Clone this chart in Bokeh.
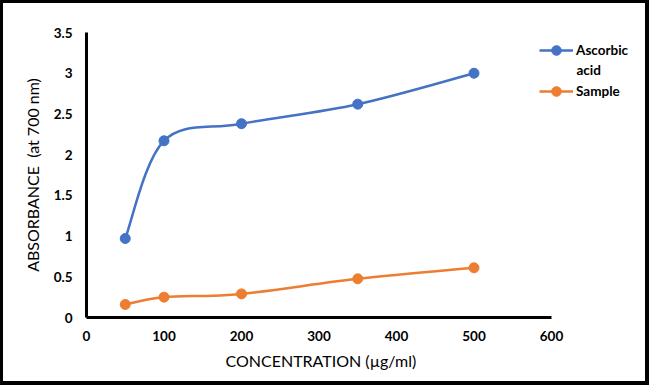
from bokeh.plotting import figure
from bokeh.models import Range1d, FixedTicker, Legend, LegendItem, Label, Title
from bokeh.embed import file_html
from bokeh.resources import INLINE

concentration = [50, 100, 200, 350, 500]
ascorbic_acid = [0.97, 2.17, 2.38, 2.62, 3.00]
sample = [0.16, 0.25, 0.29, 0.475, 0.61]
x_ticks = [0, 100, 200, 300, 400, 500, 600]
y_ticks = [0, 0.5, 1, 1.5, 2, 2.5, 3, 3.5]
y_tick_labels = ["0", "0.5", "1", "1.5", "2", "2.5", "3", "3.5"]

BLUE = "#4472C4"
ORANGE = "#ED7D31"
FONT = "Lato"

# frame spans 554 px; the x axis (0..600) occupies 465 px of it, the rest holds the legend
X_AXIS_MAX = 600
FRAME_PX = 554
AXIS_PX = 465
x_end = X_AXIS_MAX * FRAME_PX / AXIS_PX

p = figure(width=649, height=385, output_backend="svg", toolbar_location=None,
           x_range=Range1d(0, x_end), y_range=Range1d(0, 3.5),
           min_border_left=83, min_border_right=12, min_border_top=29, min_border_bottom=71)
p.outline_line_color = None
p.grid.visible = False
p.styles = {"border-style": "solid", "border-color": "black",
            "border-width": "3px 4px 4px 3px"}

for ax in (p.xaxis[0], p.yaxis[0]):
    ax.axis_line_width = 3
    ax.axis_line_color = "black"
    ax.major_tick_line_color = None
    ax.minor_tick_line_color = None
    ax.major_label_text_font = FONT
    ax.major_label_text_font_style = "bold"
    ax.major_label_text_font_size = "13.5px"
    ax.major_label_text_color = "black"
    ax.axis_label_text_font = FONT
    ax.axis_label_text_font_style = "normal"
    ax.axis_label_text_font_size = "16px"
    ax.axis_label_text_color = "black"

p.xaxis.bounds = (0, X_AXIS_MAX)
p.xaxis.ticker = FixedTicker(ticks=x_ticks)
p.yaxis.ticker = FixedTicker(ticks=y_ticks)
p.yaxis.major_label_overrides = {t: l for t, l in zip(y_ticks, y_tick_labels)}
p.xaxis.major_label_standoff = 7
p.yaxis.major_label_standoff = 8
p.yaxis.axis_label = "ABSORBANCE\u00a0\u00a0(at 700 nm)"
p.yaxis.axis_label_standoff = 9

# x-axis title centred under the 0..600 axis (not under the wider frame)
x_title = Title(text="CONCENTRATION (\u00b5g/ml)", align="left", offset=139, standoff=10,
                text_font=FONT, text_font_size="16px", text_font_style="normal",
                text_color="black")
p.add_layout(x_title, "below")


def smooth_segments(xs, ys):
    # Excel-style smoothed line: cubic Bezier control points from neighbours
    n = len(xs)
    seg = {k: [] for k in ("x0", "y0", "x1", "y1", "cx0", "cy0", "cx1", "cy1")}
    for i in range(n - 1):
        xp, yp = (xs[i - 1], ys[i - 1]) if i > 0 else (xs[i], ys[i])
        xn, yn = (xs[i + 2], ys[i + 2]) if i + 2 < n else (xs[i + 1], ys[i + 1])
        seg["x0"].append(xs[i]); seg["y0"].append(ys[i])
        seg["x1"].append(xs[i + 1]); seg["y1"].append(ys[i + 1])
        seg["cx0"].append(xs[i] + (xs[i + 1] - xp) / 6)
        seg["cy0"].append(ys[i] + (ys[i + 1] - yp) / 6)
        seg["cx1"].append(xs[i + 1] - (xn - xs[i]) / 6)
        seg["cy1"].append(ys[i + 1] - (yn - ys[i]) / 6)
    return seg


items = []
for name, ys, col in (("Ascorbic", ascorbic_acid, BLUE), ("Sample", sample, ORANGE)):
    p.bezier(**smooth_segments(concentration, ys), line_color=col, line_width=2.5)
    sr = p.scatter(concentration, ys, size=10, color=col)
    # legend proxy: hidden straight line, only its legend swatch is shown
    lr = p.line(concentration, ys, line_color=col, line_width=2.5, visible=False)
    items.append(LegendItem(label=name, renderers=[lr, sr]))

legend = Legend(items=items, location=(453, 214), background_fill_alpha=0,
                border_line_color=None, padding=0, margin=0, spacing=17,
                glyph_width=34, glyph_height=24, label_standoff=3,
                label_text_font=FONT, label_text_font_style="bold",
                label_text_font_size="13.5px", label_text_color="black")
p.add_layout(legend)

# second line of the wrapped legend label "Ascorbic acid"
acid = Label(x=490, y=317 - 69, x_units="screen", y_units="screen", text="acid",
             text_font=FONT, text_font_style="bold", text_font_size="13.5px",
             text_baseline="middle", text_color="black")
p.add_layout(acid)

open("out.html", "w").write(file_html(p, INLINE))
